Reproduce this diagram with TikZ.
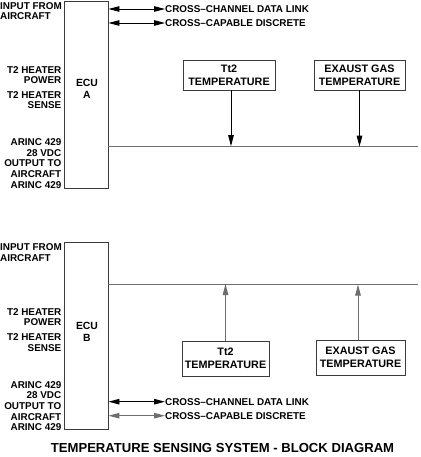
\documentclass[tikz,border=0pt]{standalone}
\usepackage{fontspec}
\setmainfont{Liberation Sans}
\usetikzlibrary{arrows.meta}
\definecolor{linegray}{HTML}{6E6E6E}
\definecolor{boxgray}{HTML}{3C3C3C}
\tikzset{
  lbl/.style={font=\bfseries\fontsize{9.9}{10.6}\selectfont, inner sep=0pt},
  lblr/.style={lbl, anchor=east, align=right},
  lbll/.style={lbl, anchor=west, align=left},
  ecubox/.style={draw=boxgray, line width=0.9pt, minimum width=44pt, minimum height=187pt, inner sep=0pt},
  ecutext/.style={font=\bfseries\fontsize{10.4}{12}\selectfont, inner sep=0pt, align=center},
  sensbox/.style={draw=boxgray, line width=0.9pt, inner sep=0pt, align=center, font=\bfseries\fontsize{10.8}{13}\selectfont},
  tip/.style={-{Triangle[length=11pt,width=5.5pt]}},
  dtip/.style={{Triangle[length=11pt,width=5.5pt]}-{Triangle[length=11pt,width=5.5pt]}},
  busline/.style={draw=linegray, line width=1pt},
}
\begin{document}
\begin{tikzpicture}[x=1pt,y=-1pt]
\useasboundingbox (0,0) rectangle (420,457);
% ---------- ECU A ----------
\node[ecubox] (ecuA) at (86,94.5) {};
\node[ecutext] (ecuAt) at (87,89) {ECU\\A};
\node[lbll] (inA) at (0,11) {INPUT FROM\\AIRCRAFT};
\node[lblr] (hpA) at (61.5,75) {T2 HEATER\\POWER};
\node[lblr] (hsA) at (61.5,100) {T2 HEATER\\SENSE};
\node[lblr] (arA) at (61.5,163.5) {ARINC 429\\28 VDC\\OUTPUT TO\\AIRCRAFT\\ARINC 429};
\node[lbll] (c1A) at (165,9) {CROSS–CHANNEL DATA LINK};
\node[lbll] (c2A) at (165,23) {CROSS–CAPABLE DISCRETE};
\draw[dtip, black, line width=0.9pt] (ecuA.east |- c1A.west) -- (c1A.west);
\draw[dtip, black, line width=0.9pt] (ecuA.east |- c2A.west) -- (c2A.west);
\coordinate (busAend) at (418,146.7);
\draw[busline] (ecuA.east |- busAend) -- (busAend);
\node[sensbox, minimum width=92pt, minimum height=30pt] (tA) at (229,75) {Tt2\\TEMPERATURE};
\node[sensbox, minimum width=91pt, minimum height=30pt] (eA) at (359.5,75) {EXAUST GAS\\TEMPERATURE};
\coordinate (tAx) at (231,146.2);
\draw[tip, black, line width=0.9pt] (tA.south -| tAx) -- (tAx);
\draw[tip, black, line width=0.9pt] (eA.south) -- (eA.south |- busAend);
% ---------- ECU B ----------
\node[ecubox] (ecuB) at (86,335.5) {};
\node[ecutext] (ecuBt) at (87,332) {ECU\\B};
\node[lbll] (inB) at (0,252.5) {INPUT FROM\\AIRCRAFT};
\node[lblr] (hpB) at (61.5,317) {T2 HEATER\\POWER};
\node[lblr] (hsB) at (61.5,342.5) {T2 HEATER\\SENSE};
\node[lblr] (arB) at (61.5,406) {ARINC 429\\28 VDC\\OUTPUT TO\\AIRCRAFT\\ARINC 429};
\node[lbll] (c1B) at (165,401.7) {CROSS–CHANNEL DATA LINK};
\node[lbll] (c2B) at (165,415.7) {CROSS–CAPABLE DISCRETE};
\draw[dtip, black, line width=0.9pt] (ecuB.east |- c1B.west) -- (c1B.west);
\draw[dtip, linegray, line width=1pt] (ecuB.east |- c2B.west) -- (c2B.west);
\coordinate (busBend) at (418,284);
\draw[busline] (ecuB.east |- busBend) -- (busBend);
\node[sensbox, minimum width=87pt, minimum height=35pt] (tB) at (225.5,358.5) {Tt2\\TEMPERATURE};
\node[sensbox, minimum width=89pt, minimum height=35pt] (eB) at (360.5,357.5) {EXAUST GAS\\TEMPERATURE};
\draw[tip, linegray, line width=1pt] (tB.north) -- (tB.north |- busBend);
\coordinate (eBx) at (358,284.5);
\draw[tip, linegray, line width=1pt] (eB.north -| eBx) -- (eBx);
% ---------- title ----------
\node[font=\bfseries\fontsize{13.1}{14}\selectfont, inner sep=0pt] (title) at (222.5,448) {TEMPERATURE SENSING SYSTEM - BLOCK DIAGRAM};
\end{tikzpicture}
\end{document}
